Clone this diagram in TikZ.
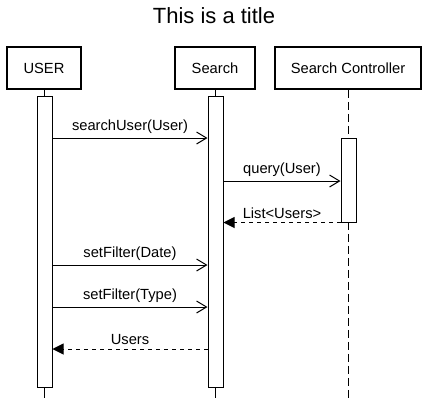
\documentclass[tikz,border=0pt]{standalone}
\usepackage{fontspec}
\setmainfont{Liberation Sans}
\usetikzlibrary{arrows.meta}
\begin{document}
\begin{tikzpicture}[x=1pt,y=-1pt,
  font=\fontsize{14.7}{17}\selectfont,
  actor/.style={draw, line width=1.5pt, fill=white, minimum height=42pt, inner sep=0pt},
  act/.style={draw, line width=1pt, fill=white, minimum width=15pt, inner sep=0pt},
  life/.style={line width=1pt},
  dlife/.style={line width=1pt, dash pattern=on 8pt off 4pt},
  msg/.style={line width=1pt, -{Straight Barb[length=10pt,width=12pt,line width=1pt]}},
  ret/.style={line width=1pt, dash pattern=on 4pt off 4pt, -{Triangle[length=11pt,width=11pt]}},
  lbl/.style={above, inner sep=3.5pt}]
\useasboundingbox (0,0) rectangle (429,402);
\node[font=\fontsize{22}{26}\selectfont] (title) at (214,16) {This is a title};
% actors
\node[actor, minimum width=74pt] (user) at (44,68) {USER};
\node[actor, minimum width=80pt] (search) at (215,68) {Search};
\node[actor, minimum width=146pt] (ctrl) at (348,68) {Search Controller};
% lifeline ends
\coordinate (userend) at (44,398);
\coordinate (searchend) at (215,398);
\coordinate (ctrlend) at (348,398);
\draw[life] (user.south) -- (userend);
\draw[life] (search.south) -- (searchend);
\draw[dlife] (ctrl.south) -- (ctrlend);
% activations
\node[act, minimum height=291pt] (ua) at (44.5,241.5) {};
\node[act, minimum height=291pt] (sa) at (215.5,241.5) {};
\node[act, minimum height=84pt] (ca) at (348.5,180) {};
% messages
\draw[msg] (ua.east |- 0,138) -- (sa.west |- 0,138) node[lbl, midway] {searchUser(User)};
\draw[msg] (sa.east |- 0,181) -- (ca.west |- 0,181) node[lbl, midway] {query(User)};
\draw[ret] (ca.south west) -- (sa.east |- ca.south) node[lbl, midway] {List<Users>};
\draw[msg] (ua.east |- 0,265) -- (sa.west |- 0,265) node[lbl, midway] {setFilter(Date)};
\draw[msg] (ua.east |- 0,307) -- (sa.west |- 0,307) node[lbl, midway] {setFilter(Type)};
\draw[ret] (sa.west |- 0,349) -- (ua.east |- 0,349) node[lbl, midway] {Users};
\end{tikzpicture}
\end{document}
